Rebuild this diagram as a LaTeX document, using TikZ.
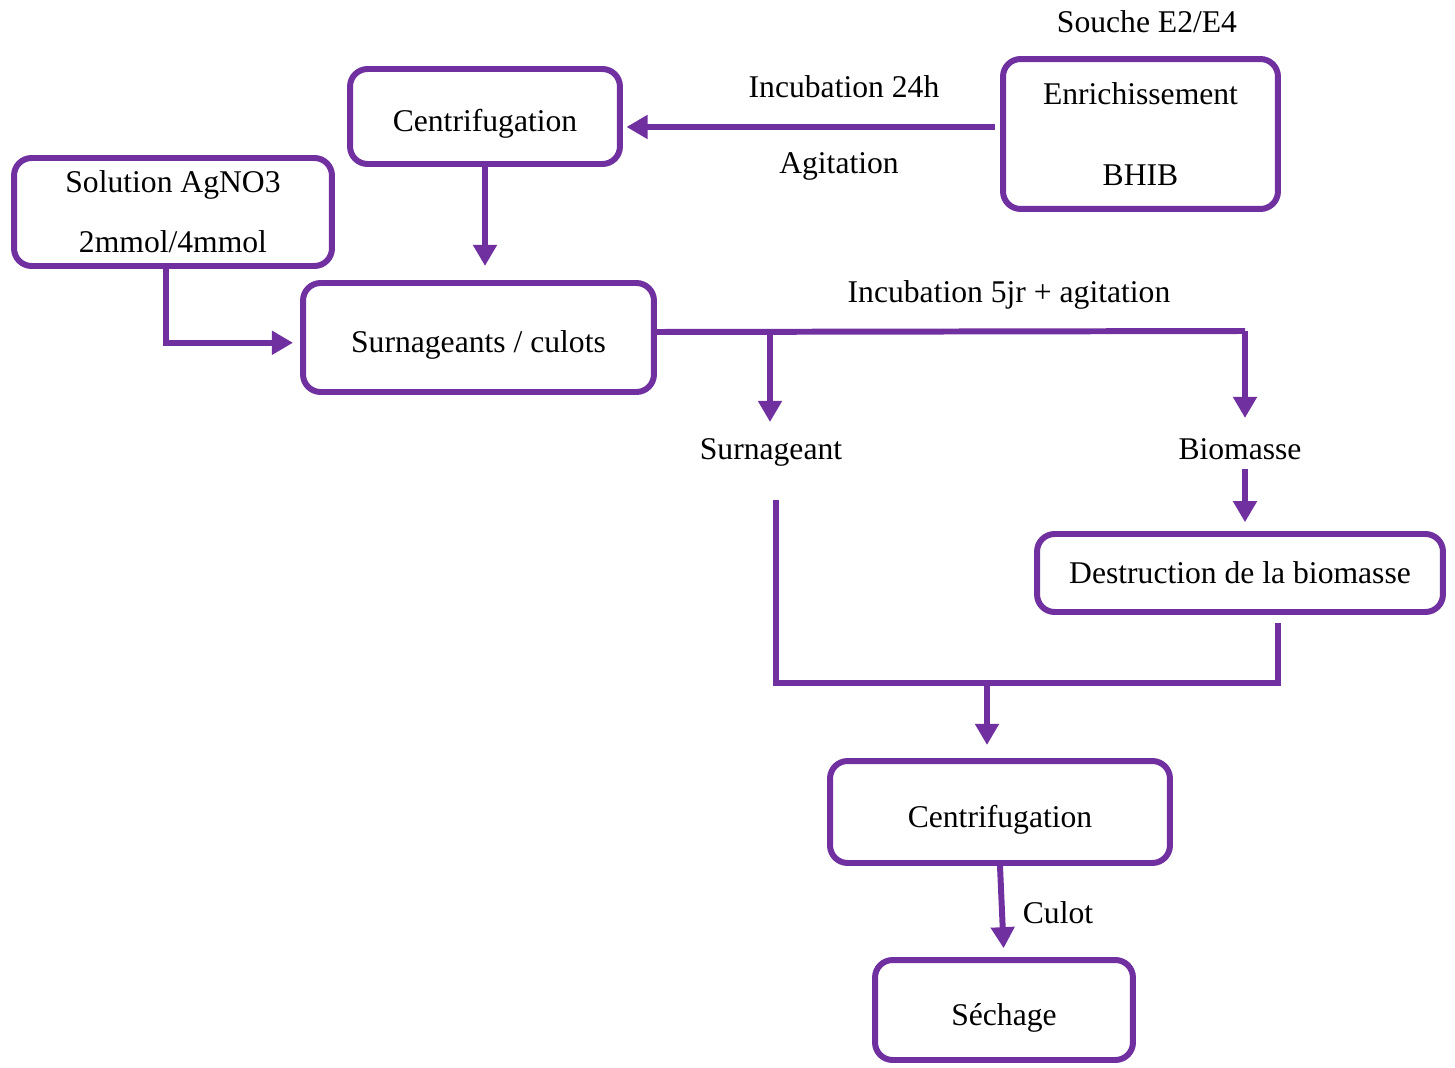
\documentclass[tikz,border=0pt]{standalone}
\usepackage{fontspec}
\setmainfont{Liberation Serif}
\usetikzlibrary{arrows.meta}
\definecolor{violet}{RGB}{112,48,160}
\tikzset{
  box/.style={draw=violet, line width=3.4pt, rounded corners=10pt, align=center, inner sep=0pt},
  oneline/.style={text height=19pt, text depth=1.4pt},
  link/.style={draw=violet, line width=3.4pt},
  arr/.style={link, -{Triangle[width=13pt,length=12pt]}}
}
\begin{document}
\begin{tikzpicture}[x=0.02cm, y=-0.02cm, font=\fontsize{18}{22}\selectfont]
    \useasboundingbox (0,0) rectangle (1455,1068);

    \node[box, oneline, minimum width=5.4cm, minimum height=1.9cm] (cent1) at (485,116.5) {Centrifugation};
    \node[box, minimum width=5.5cm, minimum height=3.0cm] (enrich) at (1140.5,134) {Enrichissement\\[24pt]BHIB};
    \node (souche) at (1147,22) {Souche E2/E4};
    \node[box, minimum width=6.36cm, minimum height=2.16cm] (agno) at (173,212) {Solution AgNO3\\[12pt]2mmol/4mmol};
    \node[box, oneline, minimum width=7.02cm, minimum height=2.18cm] (surn) at (478.5,337.5) {Surnageants / culots};
    \node (surnt) at (771,452) {Surnageant};
    \node (biom) at (1240,449) {Biomasse};
    \node[box, minimum width=8.12cm, minimum height=1.56cm] (destr) at (1240,573) {Destruction de la biomasse};
    \node[box, oneline, minimum width=6.8cm, minimum height=2.04cm] (cent2) at (1000,812) {Centrifugation};
    \node[box, oneline, minimum width=5.16cm, minimum height=2.0cm] (sech) at (1004,1010) {S\'echage};

    \node (inc24) at (844,87) {Incubation 24h};
    \node (agit) at (839,166) {Agitation};
    \node (inc5) at (1009,295) {Incubation 5jr + agitation};
    \node (culot) at (1058,913) {Culot};

    \coordinate (split) at (770,332);
    \coordinate (corner) at (1245,331);
    \coordinate (down) at (776,500);
    \coordinate (up) at (1278,623);
    \coordinate (merge) at (987,683);

    \draw[arr, shorten <=3pt, shorten >=2pt] ([yshift=4pt]enrich.west) -- ([yshift=4pt]enrich.west -| cent1.east);
    \draw[arr, shorten >=8pt] (cent1.south) -- (cent1.south |- surn.north);
    \draw[arr, shorten >=4pt] ([xshift=-4pt]agno.south) |- ([yshift=-3pt]surn.west);
    \draw[link] (surn.east |- split) -- (corner);
    \draw[arr] (split) -- ++(0,90);
    \draw[arr] (corner) -- ++(0,87);
    \draw[arr, shorten <=2pt, shorten >=5pt] (biom.south -| corner) -- (destr.north -| corner);
    \draw[link] (down) |- (merge) -| (up);
    \draw[arr] (merge) -- ++(0,62);
    \draw[arr, shorten >=5pt] (cent2.south) -- (sech.north);
  \end{tikzpicture}
\end{document}
